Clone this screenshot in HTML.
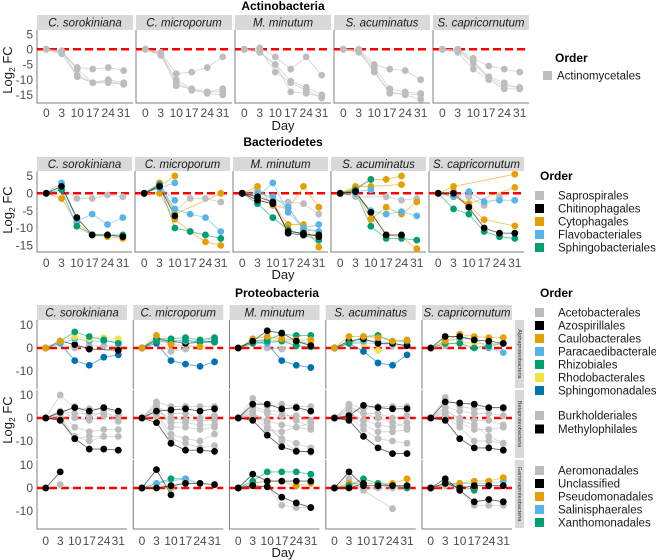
<!DOCTYPE html>
<html><head><meta charset="utf-8"><style>
html,body{margin:0;padding:0;background:#fff;}
svg{display:block;font-family:"Liberation Sans",Arial,sans-serif;}
</style></head><body>
<svg id="chart" width="656" height="560" viewBox="0 0 656 560" xmlns="http://www.w3.org/2000/svg"></svg>
<script>
const days = ["0","3","10","17","24","31"];
const species = ["C. sorokiniana","C. microporum","M. minutum","S. acuminatus","S. capricornutum"];
const ticksTop = [5,0,-5,-10,-15];
const ticksMid = [5,0,-5,-10,-15];
const ticksBot = [10,0,-10];
const N = null;

const actinoData = [
 [{c:'g',v:[0,-1,-6,-6.5,-6,-7]},{c:'g',v:[0,-1,-6.5,-11,-10.5,-11.5]},{c:'g',v:[0,-0.5,-8.5,-11,-11,-11.5]},{c:'g',v:[0,-1.5,-9,-11,-10,-11]}],
 [{c:'g',v:[0,-1,-8,-7.5,-6,-2.5]},{c:'g',v:[0,-1.5,-10,-13,-14,-13]},{c:'g',v:[0,-2,-11,-13.5,-14.5,-15]},{c:'g',v:[0,-1.5,-12,-13,-14,-14]}],
 [{c:'g',v:[0,0.5,-2.5,-6.5,-2.5,-8.5]},{c:'g',v:[0,-1,-5,-10.5,-12.5,-15]},{c:'g',v:[0,0,-7.5,-11,-13.5,-16]},{c:'g',v:[0,-1,-5,-14,-14.5,-15.5]}],
 [{c:'g',v:[0,0,-5,-6.5,-7,-10]},{c:'g',v:[0,-0.5,-6,-13,-14,-14.5]},{c:'g',v:[0,-1,-7,-14.5,-14.5,-15]},{c:'g',v:[0,-0.5,-7.5,-14,-15,-16.5]}],
 [{c:'g',v:[0,0,-3,-5.5,-6.5,-7.5]},{c:'g',v:[0,-0.5,-4.5,-9.5,-12,-12.5]},{c:'g',v:[0,-1,-6.5,-10,-13,-13]},{c:'g',v:[0,0,-4,-9,-11,-13]}]
];
const bacteroData = [
 [{c:'g',v:[0,2,-1.5,-1.5,-0.5,-1]},{c:'o',v:[0,-1.5,-8.5,-12,-12.5,-13]},{c:'s',v:[0,3,-8,-6,-9,-7]},{c:'n',v:[0,1,-9.5,-12,-12,-12]},{c:'k',v:[0,2,-7,-12,-12,-12.5]}],
 [{c:'g',v:[0,2,-5,-1.5,-1.5,-2.5]},{c:'o',v:[0,3,-6,N,N,0]},{c:'o',v:[0,0,-7.5,-11,-14,-15]},{c:'o',v:[0,2,5,N,N,N]},{c:'s',v:[0,2.5,-4.5,-6,-7,-11]},{c:'s',v:[0,1.5,3,N,N,N]},{c:'s',v:[0,2,-2,N,N,N]},{c:'n',v:[0,2.5,-10,-11,-12,-13]},{c:'k',v:[0,2,-6.5,N,N,N]}],
 [{c:'g',v:[0,1,-2,-2.5,-3,-6]},{c:'g',v:[0,0,-3,-4,-10,-11]},{c:'o',v:[0,2,-3.5,-4.5,2,-4]},{c:'o',v:[0,-2,-3,-9,-9,-15.5]},{c:'s',v:[0,-1,3,-5.5,-10,-9]},{c:'s',v:[0,0,-1,-4,-10.5,-11]},{c:'n',v:[0,-3,-7,-10.5,-12,-13.5]},{c:'k',v:[0,-1,-2.5,-11.5,-12,-12]},{c:'k',v:[0,-2,-3,-11,-11.5,-12.5]}],
 [{c:'g',v:[0,-1,N,-1,-2,-1.5]},{c:'o',v:[0,1.5,4,4,5,N]},{c:'o',v:[0,2,2,N,2.5,N]},{c:'o',v:[0,1,-7.5,-4,-6,-2.5]},{c:'o',v:[0,0,-5.5,-12,-12.5,-16]},{c:'s',v:[0,0,-5,-6,-5.3,-6.5]},{c:'s',v:[0,0.5,1,N,N,N]},{c:'n',v:[0,1,4,N,N,N]},{c:'n',v:[0,0.5,-9.5,-13,-13,-13.5]},{c:'k',v:[0,0.5,-5.5,-12,-12,N]}],
 [{c:'g',v:[0,0,-1,-3.5,-1,N]},{c:'o',v:[0,2,N,N,N,5.5]},{c:'o',v:[0,0.5,-3.5,-7.6,N,-9.4]},{c:'o',v:[0,-1,-3,N,N,1.7]},{c:'s',v:[0,-1,0.5,-2.4,-2,-2]},{c:'n',v:[0,-4.5,-6,-11,-12.5,-13]},{c:'k',v:[0,0,-4,-10,-11.5,-11.5]}]
];
const alphaData = [
 [{c:'g',v:[0,2,0,1,1,1]},{c:'b',v:[0,2,-5.5,-7.5,-4,-3]},{c:'k',v:[0,3,1.5,-0.5,N,-1]},{c:'s',v:[0,2,4,3,3,2.5]},{c:'y',v:[0,3,5,4,4.5,4]},{c:'n',v:[0,3,7,5,3.5,2]},{c:'o',v:[0,3,N,N,N,N]}],
 [{c:'g',v:[0,3,-1.5,-0.5,N,N]},{c:'b',v:[0,2,-5.5,-7,-8,-6]},{c:'k',v:[0,4,N,2,N,3]},{c:'s',v:[0,3,2,3,3,4]},{c:'n',v:[0,3,3,3.5,2.5,2.5]},{c:'n',v:[0,4,4,4.5,3.5,4.5]},{c:'o',v:[0,5.5,1.5,N,0.5,N]}],
 [{c:'g',v:[0,2,0,-0.5,N,N]},{c:'b',v:[0,3,2,-5.5,-7.5,-8.5]},{c:'s',v:[0,2,2,3,3,2]},{c:'y',v:[0,3,4,3,2,2]},{c:'n',v:[0,2,3,3,1,0.5]},{c:'n',v:[0,3,3.5,6,5.5,5.5]},{c:'o',v:[0,4,5,4,3.5,3.5]},{c:'k',v:[0,3,7.5,6.5,3,1]}],
 [{c:'g',v:[0,2,2,2,1,1]},{c:'b',v:[0,2,-1.5,-6.5,-7.5,-3]},{c:'y',v:[0,3,2,-1,N,N]},{c:'s',v:[0,2,3,3,2,1]},{c:'k',v:[0,3,4,2,2,1]},{c:'n',v:[0,2,5,5.5,3,3]},{c:'o',v:[0,5,5,4.5,3,3.5]}],
 [{c:'g',v:[0,1,3,2,2,2]},{c:'s',v:[0,3,4,4,0,-2]},{c:'y',v:[0,2,2.5,2,2,2]},{c:'n',v:[0,2,2,0,1,2]},{c:'o',v:[0,3,6,5,4.5,4.5]},{c:'k',v:[0,5,5,3.5,3,2]}]
];
const betaData = [
 [{c:'g',v:[0,10,4.5,4,4,2]},{c:'g',v:[0,3,2,2,2,1]},{c:'g',v:[0,2,-4,-6,-5,-5]},{c:'g',v:[0,1,-8,-10,-8,-8]},{c:'g',v:[0,0,-9,-8,-8,N]},{c:'g',v:[0,3,0,-1,1,-1]},{c:'g',v:[0,2,5,0,3,-1.5]},{c:'k',v:[0,-1,-9,-13.5,-13.5,-14]},{c:'k',v:[0,2.5,4.5,3,4.5,3]}],
 [{c:'g',v:[0,7,5,5,5,5]},{c:'g',v:[0,5,2,2,0,1]},{c:'g',v:[0,3,0,-1,-1,-1]},{c:'g',v:[0,2,-7,-9,-10,-7]},{c:'g',v:[0,1,-9,-11,-13,-12]},{c:'g',v:[0,4,-2,-2,-3,-3]},{c:'g',v:[0,6,-4,-4,-5,-4]},{c:'k',v:[0,-2,-11,-14,-14,-14.5]},{c:'k',v:[0,3,3.5,4,3,4]}],
 [{c:'g',v:[0,8.5,5,6,5,5]},{c:'g',v:[0,4,2,1,1,-1]},{c:'g',v:[0,2,-1,-3,-4,-5]},{c:'g',v:[0,3,-4,-9,-11,-13]},{c:'g',v:[0,2,-2,-10,-14,-15]},{c:'g',v:[0,5,3,3,-1,-4]},{c:'g',v:[0,1,-5,-6,-4,-2]},{c:'k',v:[0,-1,-7.5,-12.5,-14.5,-14.5]},{c:'k',v:[0,6,6,4,4.5,3]}],
 [{c:'g',v:[0,6,4,5,5,5]},{c:'g',v:[0,4,2,2,0,1]},{c:'g',v:[0,2,-1,-3,-4,-2]},{c:'g',v:[0,3,-3,-6,-6,-5]},{c:'g',v:[0,1,-5,-9,-10,-11]},{c:'g',v:[0,5,2,0,-2,-4]},{c:'k',v:[0,-1,-8,-13,-15.5,-15.5]},{c:'k',v:[0,1,5.5,4.5,4,4]}],
 [{c:'g',v:[0,9,5,4,4,4]},{c:'g',v:[0,5,3,2,2,1]},{c:'g',v:[0,3,0,-1,-1,-3]},{c:'g',v:[0,2,-2,-5,-5,-4]},{c:'g',v:[0,1,-4,-10,-10,-11]},{c:'g',v:[0,4,-1,-3,-8,-11]},{c:'k',v:[0,-1,-9,-13,-13,-14]},{c:'k',v:[0,7,6.5,6,4.5,4.5]}]
];
const gammaData = [
 [{c:'g',v:[0,1.5,N,N,N,N]},{c:'k',v:[0,7,N,N,N,N]}],
 [{c:'g',v:[0,2,0,3,2,N]},{c:'o',v:[0,N,0.5,N,N,N]},{c:'n',v:[0,N,4,4,N,N]},{c:'s',v:[0,2,N,4,2,N]},{c:'k',v:[0,8,-3,N,N,N]},{c:'k',v:[0,0,1,2,2,1.5]}],
 [{c:'g',v:[0,1,1,-7.5,-8.5,-8.5]},{c:'s',v:[0,2,3,N,N,N]},{c:'o',v:[0,2,3,3,1,2]},{c:'n',v:[0,3,7,7,7,6]},{c:'k',v:[0,6,3,3,3,3]},{c:'k',v:[0,1,0.5,-4,-6.5,-8.5]}],
 [{c:'g',v:[0,4,-1,N,-9,N]},{c:'g',v:[0,2,0,0,0,0]},{c:'o',v:[0,2,2,2,2,4]},{c:'n',v:[0,1,4,2,N,0]},{c:'k',v:[0,7,1,1,1,1]},{c:'k',v:[0,0,2,N,N,N]}],
 [{c:'g',v:[0,1,-1,-7.5,-7.5,-7.5]},{c:'n',v:[0,2,1,-1,N,N]},{c:'s',v:[0,2,2,2,2,3]},{c:'o',v:[0,2,2,3,3,4.5]},{c:'k',v:[0,4,-1,-6,-5,-6]},{c:'k',v:[0,2,0,1,1,1]}]
];
const actinoLegend = [["Actinomycetales","g"]];
const bacteroLegend = [["Saprospirales","g"],["Chitinophagales","k"],["Cytophagales","o"],["Flavobacteriales","s"],["Sphingobacteriales","n"]];
const alphaLegend = [["Acetobacterales","g"],["Azospirillales","k"],["Caulobacterales","o"],["Paracaedibacterales","s"],["Rhizobiales","n"],["Rhodobacterales","y"],["Sphingomonadales","b"]];
const betaLegend = [["Burkholderiales","g"],["Methylophilales","k"]];
const gammaLegend = [["Aeromonadales","g"],["Unclassified","k"],["Pseudomonadales","o"],["Salinisphaerales","s"],["Xanthomonadales","n"]];

const COL = {g:'#bdbdbd',k:'#000000',o:'#E69F00',s:'#56B4E9',n:'#009E73',y:'#F0E442',b:'#0072B2'};
const svg = document.getElementById('chart');
const NS = 'http://www.w3.org/2000/svg';
function mk(tag, attrs, parent){const e=document.createElementNS(NS,tag);for(const k in attrs)e.setAttribute(k,attrs[k]);(parent||svg).appendChild(e);return e;}
function txt(s, attrs, name){const e=mk('text',attrs);e.textContent=s;
 
 
 return e;}
function xScale(x0,w,i){return x0 + w*(0.6+i)/6.2;}
function yScale(zero,ppu,v){return zero - v*ppu;}

function drawPanel(x0,w,top,bot,zero,ppu,series,name,showXAxis){
 const g=mk('g',{});
 
 
 const ax=mk('path',{d:`M${x0},${top}V${bot}`+(showXAxis?`H${x0+w}`:''),stroke:'#7f7f7f','stroke-width':1,fill:'none'},g);
 
 
 const zl=mk('line',{x1:x0,x2:x0+w,y1:yScale(zero,ppu,0),y2:yScale(zero,ppu,0),stroke:'#ff0000','stroke-width':2.5,'stroke-dasharray':'8,4'},g);
 
 
 series.forEach(s=>{
  let d='';
  s.v.forEach((v,i)=>{ if(v===null)return; const X=xScale(x0,w,i),Y=yScale(zero,ppu,v); d+=(d?'L':'M')+X.toFixed(1)+','+Y.toFixed(1); });
  const p=mk('path',{d:d,stroke:COL[s.c],'stroke-width':0.9,'stroke-opacity':0.6,fill:'none'},g);
  
  
 });
 series.forEach(s=>{
  s.v.forEach((v,i)=>{ if(v===null)return;
   const c=mk('circle',{cx:xScale(x0,w,i),cy:yScale(zero,ppu,v),r:3.4,fill:COL[s.c]},g);
   
   
  });
 });
}
function strip(x,y,w,h,label){
 const r=mk('rect',{x:x,y:y,width:w,height:h,fill:'#d9d9d9'});
 
 
 txt(label,{x:x+w/2,y:y+h/2+4,'font-size':11.5,'font-style':'italic','text-anchor':'middle',fill:'#1a1a1a'},'facet-label');
}
function yTicks(x0,zero,ppu,ticks){
 ticks.forEach(t=>{const Y=yScale(zero,ppu,t);
  txt(String(t),{x:x0-4,y:Y+4.2,'font-size':12,'text-anchor':'end',fill:'#4d4d4d'},'y-tick-label');
 });
}
function xTicks(x0,w,y){
 days.forEach((d,i)=>{txt(d,{x:xScale(x0,w,i),y:y,'font-size':12,'text-anchor':'middle',fill:'#4d4d4d'},'x-tick-label');});
}
function yTitle(cy){
 const t=mk('text',{transform:`translate(12,${cy}) rotate(-90)`,'font-size':13,'text-anchor':'middle',fill:'#1a1a1a'});
 
 
 t.innerHTML='Log<tspan font-size="8.5" dy="3">2</tspan><tspan dy="-3"> FC</tspan>';
}
function legend(x,y,title,items,startY,step,sqx,tx){
 if(title) txt(title,{x:x,y:y,'font-size':12,'font-weight':'bold',fill:'#000'},'legend-title');
 items.forEach((it,i)=>{const Y=startY+i*step;
  const r=mk('rect',{x:sqx,y:Y-4,width:9,height:9,fill:COL[it[1]]});
  
  
  txt(it[0],{x:tx,y:Y+4.5,'font-size':11.5,fill:'#1a1a1a'},'legend-label');
 });
}

// Section A: Actinobacteria
txt('Actinobacteria',{x:283,y:10,'font-size':12,'font-weight':'bold','text-anchor':'middle'},'section-title-actinobacteria');
for(let k=0;k<5;k++){const x0=37+99*k,w=96;
 strip(x0,15,w,15,species[k]);
 drawPanel(x0,w,30,103,49.3,3.04,actinoData[k],'actino-panel-'+(k+1),true);
 xTicks(x0,w,117);
}
yTicks(37,49.3,3.04,ticksTop);
yTitle(70);
txt('Day',{x:283,y:130,'font-size':13,'text-anchor':'middle',fill:'#1a1a1a'},'x-axis-title');
legend(555,62,'Order',actinoLegend,75,13,543,557);

// Section B: Bacteriodetes
txt('Bacteriodetes',{x:283,y:146,'font-size':12,'font-weight':'bold','text-anchor':'middle'},'section-title-bacteriodetes');
for(let k=0;k<5;k++){const x0=37+98*k,w=95;
 strip(x0,157,w,14,species[k]);
 drawPanel(x0,w,171,252,193.3,3.47,bacteroData[k],'bactero-panel-'+(k+1),true);
 xTicks(x0,w,267);
}
yTicks(37,193.3,3.47,ticksMid);
yTitle(210);
txt('Day',{x:283,y:279,'font-size':13,'text-anchor':'middle',fill:'#1a1a1a'},'x-axis-title');
legend(540,180,'Order',bacteroLegend,195,13,535,558);

// Section C: Proteobacteria
txt('Proteobacteria',{x:277,y:297,'font-size':12,'font-weight':'bold','text-anchor':'middle'},'section-title-proteobacteria');
const subs=[{top:320,data:alphaData,label:'Alphaproteobacteria'},{top:390,data:betaData,label:'Betaproteobacteria'},{top:460,data:gammaData,label:'Gammaproteobacteria'}];
for(let k=0;k<5;k++){const x0=37+96.25*k,w=90;
 strip(x0,305,w,15,species[k]);
 subs.forEach((s,j)=>{
  drawPanel(x0,w,s.top,s.top+69,s.top+28,2.3,s.data[k],'proteo-panel-'+(j+1)+'-'+(k+1),j===2);
 });
 xTicks(x0,w,545);
}
subs.forEach((s,j)=>{
 yTicks(37,s.top+28,2.3,ticksBot);
 const r=mk('rect',{x:515,y:s.top,width:9,height:68,fill:'#d9d9d9'});
 
 
 const t=mk('text',{transform:`translate(518,${s.top+34}) rotate(90)`,'font-size':5.5,'text-anchor':'middle',fill:'#333'});
 
 
 t.textContent=s.label;
});
yTitle(420);
txt('Day',{x:283,y:557,'font-size':13,'text-anchor':'middle',fill:'#1a1a1a'},'x-axis-title');
legend(540,297,'Order',alphaLegend,312,13,535,558);
legend(0,0,null,betaLegend,415,13.5,535,558);
legend(0,0,null,gammaLegend,470,13,535,558);
</script>
</body></html>
